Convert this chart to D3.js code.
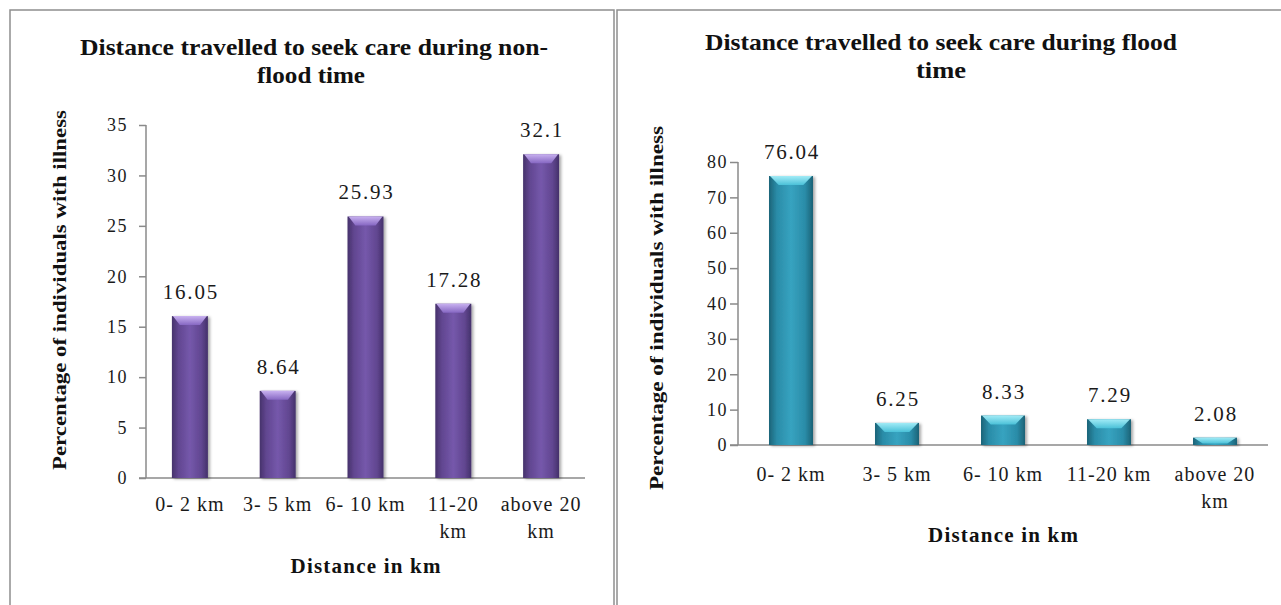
<!DOCTYPE html>
<html>
<head>
<meta charset="utf-8">
<script src="https://cdn.jsdelivr.net/npm/d3@7/dist/d3.min.js"></script>
<style>
  html, body { margin: 0; padding: 0; background: #fff; }
  svg { display: block; }
  svg text { font-family: "Liberation Serif", "Times New Roman", serif; }
</style>
</head>
<body>
<svg id="chart" width="1281" height="605"></svg>
<script>
// Distance categories (tick labels, wrapped per panel)
const categories = ["0- 2 km", "3- 5 km", "6- 10 km", "11-20 km", "above 20 km"];
const nonFloodTickLines = [["0- 2 km"], ["3- 5 km"], ["6- 10 km"], ["11-20", "km"], ["above 20", "km"]];
const floodTickLines = [["0- 2 km"], ["3- 5 km"], ["6- 10 km"], ["11-20 km"], ["above 20", "km"]];

// Percentage of individuals with illness
const nonFloodValues = [16.05, 8.64, 25.93, 17.28, 32.1];
const floodValues = [76.04, 6.25, 8.33, 7.29, 2.08];

// Y-axis ticks
const nonFloodTicks = [0, 5, 10, 15, 20, 25, 30, 35];
const floodTicks = [0, 10, 20, 30, 40, 50, 60, 70, 80];

const FONT = '"Liberation Serif", "Times New Roman", serif';
const svg = d3.select("#chart");
const defs = svg.append("defs");

// Panel frames
svg.append("rect").attr("x", 10).attr("y", 10).attr("width", 604).attr("height", 620)
  .attr("fill", "none").attr("stroke", "#8e8e8e").attr("stroke-width", 1.5);
svg.append("rect").attr("x", 617).attr("y", 10).attr("width", 700).attr("height", 620)
  .attr("fill", "none").attr("stroke", "#8e8e8e").attr("stroke-width", 1.5);

// Soft shadow behind bars
const shadow = defs.append("filter").attr("id", "barShadow")
  .attr("x", "-30%").attr("y", "-10%").attr("width", "160%").attr("height", "130%");
shadow.append("feDropShadow").attr("dx", 2).attr("dy", 1).attr("stdDeviation", 1.6)
  .attr("flood-color", "#000").attr("flood-opacity", 0.35);

function bodyGradient(id, stops) {
  const g = defs.append("linearGradient").attr("id", id)
    .attr("x1", "0%").attr("x2", "100%").attr("y1", "0%").attr("y2", "0%");
  stops.forEach(([o, c]) => g.append("stop").attr("offset", o).attr("stop-color", c));
}
function capGradient(id, stops) {
  const g = defs.append("linearGradient").attr("id", id)
    .attr("x1", "0%").attr("x2", "0%").attr("y1", "0%").attr("y2", "100%");
  stops.forEach(([o, c]) => g.append("stop").attr("offset", o).attr("stop-color", c));
}

bodyGradient("purpleBody", [["0%", "#46326b"], ["18%", "#614690"], ["50%", "#7558ab"], ["82%", "#614690"], ["100%", "#44316a"]]);
capGradient("purpleCap", [["0%", "#cdb6f4"], ["100%", "#8768c4"]]);
bodyGradient("tealBody", [["0%", "#1c6478"], ["18%", "#2a8ca8"], ["50%", "#37a3c0"], ["82%", "#2a8ca8"], ["100%", "#1b6276"]]);
capGradient("tealCap", [["0%", "#a8f0fa"], ["100%", "#4cc3da"]]);

function drawChart(cfg) {
  const g = svg.append("g");

  const x = d3.scaleBand().domain(categories)
    .range([cfg.left, cfg.right]).paddingInner(cfg.pad).paddingOuter(cfg.pad / 2);
  const y = d3.scaleLinear().domain([0, cfg.max]).range([cfg.bottom, cfg.top]);

  // Title
  const title = g.append("text").attr("font-weight", "bold").attr("font-size", 24)
    .attr("fill", "#111").attr("text-anchor", "middle").style("font-family", FONT);
  cfg.title.forEach((t, i) => {
    title.append("tspan").attr("x", cfg.titleX[i]).attr("y", cfg.titleY[i])
      .attr("textLength", cfg.titleW[i]).attr("lengthAdjust", "spacingAndGlyphs").text(t);
  });

  // Y axis
  const yAxis = g.append("g").attr("transform", `translate(${cfg.left},0)`)
    .call(d3.axisLeft(y).tickValues(cfg.ticks).tickSize(cfg.tickSize)
      .tickPadding(cfg.tickPad).tickFormat(d3.format("d")));
  yAxis.select(".domain").attr("stroke", "#8a8a8a").attr("stroke-width", 1.5)
    .attr("d", `M0,${cfg.top}V${cfg.bottom}`);
  yAxis.selectAll(".tick line").attr("stroke", "#8a8a8a").attr("stroke-width", 1.5);
  yAxis.selectAll(".tick text").style("font-family", FONT)
    .attr("font-size", 18).attr("letter-spacing", 1.5).attr("fill", "#1a1a1a");

  // X axis baseline
  g.append("line").attr("x1", cfg.left - cfg.tickSize).attr("x2", cfg.right)
    .attr("y1", y(0)).attr("y2", y(0)).attr("stroke", "#8a8a8a").attr("stroke-width", 1.5);

  // Category labels
  const labels = g.append("g").attr("font-size", 20).attr("fill", "#1a1a1a")
    .attr("letter-spacing", 1).attr("text-anchor", "middle").style("font-family", FONT);
  categories.forEach((c, i) => {
    const t = labels.append("text");
    cfg.tickLines[i].forEach((line, j) => {
      t.append("tspan").attr("x", x(c) + x.bandwidth() / 2)
        .attr("y", cfg.xLabelY + j * 27).text(line);
    });
  });

  // Axis titles
  g.append("text").attr("font-weight", "bold").attr("font-size", 21).attr("fill", "#111")
    .style("font-family", FONT)
    .attr("text-anchor", "middle").attr("x", (cfg.left + cfg.right) / 2).attr("y", cfg.xTitleY)
    .attr("textLength", 150).attr("lengthAdjust", "spacing").text("Distance in km");
  g.append("text").attr("font-weight", "bold").attr("font-size", 19).attr("fill", "#111")
    .style("font-family", FONT).attr("text-anchor", "middle")
    .attr("transform", `translate(${cfg.yTitleX},${cfg.yTitleY}) rotate(-90)`)
    .attr("textLength", cfg.yTitleW).attr("lengthAdjust", "spacingAndGlyphs")
    .text("Percentage of individuals with illness");

  // Bars
  const bw = x.bandwidth();
  const bars = g.append("g").selectAll("g.bar").data(cfg.values).join("g").attr("class", "bar");
  bars.append("rect")
    .attr("x", (d, i) => x(categories[i])).attr("y", d => y(d))
    .attr("width", bw).attr("height", d => y(0) - y(d))
    .attr("fill", `url(#${cfg.body})`).attr("filter", "url(#barShadow)");
  // bevelled top highlight
  bars.append("path")
    .attr("d", (d, i) => {
      const x0 = x(categories[i]), y0 = y(d);
      const h = Math.min(9, (y(0) - y(d)) * 0.8);
      const inset = bw * 0.22;
      return `M${x0 + 1},${y0}H${x0 + bw - 1}L${x0 + bw - inset},${y0 + h}H${x0 + inset}Z`;
    })
    .attr("fill", `url(#${cfg.cap})`).attr("opacity", 0.95);

  // Value labels
  g.append("g").attr("font-size", 21).attr("fill", "#1a1a1a").attr("text-anchor", "middle")
    .style("font-family", FONT).attr("letter-spacing", 1.8)
    .selectAll("text").data(cfg.values).join("text")
    .attr("x", (d, i) => x(categories[i]) + bw / 2 + 1)
    .attr("y", d => y(d) - 17)
    .text(d => d);
}

drawChart({
  title: ["Distance travelled to seek care during non-", "flood time"],
  titleX: [314, 311], titleY: [55, 83], titleW: [468, 108],
  left: 146, right: 585, top: 125, bottom: 478, max: 35, pad: 0.59,
  ticks: nonFloodTicks, tickSize: 7, tickPad: 11,
  values: nonFloodValues, tickLines: nonFloodTickLines,
  xLabelY: 511, xTitleY: 573,
  yTitleX: 66, yTitleY: 290, yTitleW: 360,
  body: "purpleBody", cap: "purpleCap"
});

drawChart({
  title: ["Distance travelled to seek care during flood", "time"],
  titleX: [941, 941], titleY: [50, 78], titleW: [472, 50],
  left: 738, right: 1268, top: 162, bottom: 445, max: 80, pad: 0.585,
  ticks: floodTicks, tickSize: 8, tickPad: 2,
  values: floodValues, tickLines: floodTickLines,
  xLabelY: 481, xTitleY: 542,
  yTitleX: 663, yTitleY: 308, yTitleW: 364,
  body: "tealBody", cap: "tealCap"
});
</script>
</body>
</html>
